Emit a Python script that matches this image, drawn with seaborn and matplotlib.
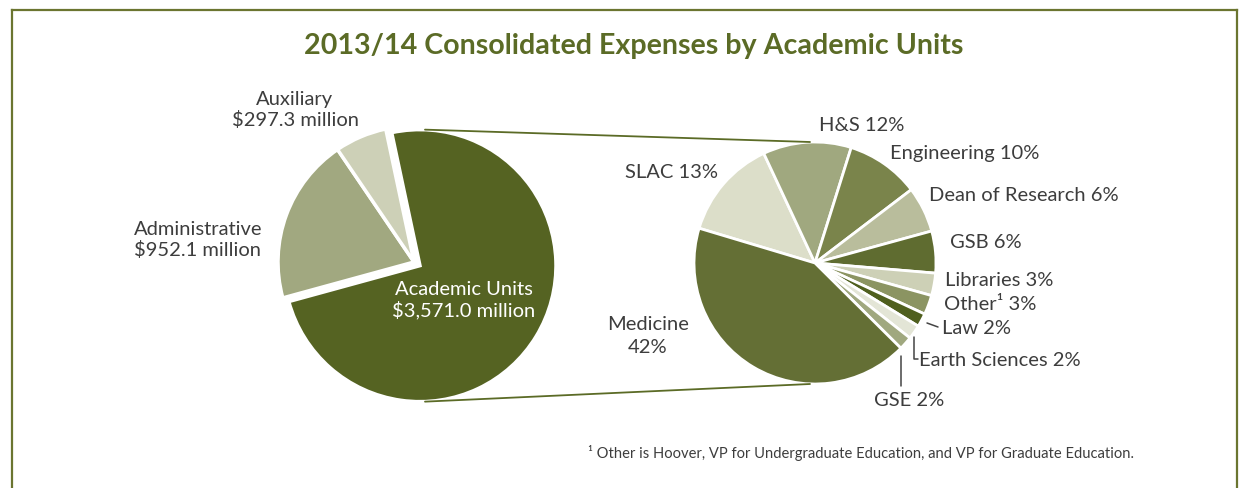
import matplotlib
matplotlib.use("Agg")
import matplotlib.pyplot as plt
import seaborn as sns

# Consolidated expenses ($ million)
main_labels = ["Academic Units", "Administrative", "Auxiliary"]
main_values = [3571.0, 952.1, 297.3]
main_text = ["$3,571.0 million", "$952.1 million", "$297.3 million"]

# Academic units breakdown (% share)
unit_names = ["SLAC", "H&S", "Engineering", "Dean of Research", "GSB", "Libraries",
              "Other\u00b9", "Law", "Earth Sciences", "GSE", "Medicine"]
unit_shares = [13.4, 11.8, 9.8, 6.1, 5.6, 3.0, 2.6, 1.8, 1.9, 1.8, 42.2]
unit_pct = ["13%", "12%", "10%", "6%", "6%", "3%", "3%", "2%", "2%", "2%", "42%"]

footnote = "\u00b9 Other is Hoover, VP for Undergraduate Education, and VP for Graduate Education."

main_colors = ["#556322", "#a1a880", "#cdd0b7"]
unit_colors = ["#dcdec9", "#a0a87f", "#7a844b", "#b9bd9c", "#5f6c30", "#cdd0b6",
               "#8b9462", "#4f5f1e", "#e3e5d6", "#a0a87f", "#646f35"]

sns.set_theme(style="white")
plt.rcParams["font.family"] = ["Lato", "DejaVu Sans"]

W, H = 1248, 488
olive = "#5b6b26"
txt = "#3d3d3d"

fig = plt.figure(figsize=(W / 100, H / 100), dpi=100)
ax = fig.add_axes([12 / W, 0, 1225 / W, 478 / H])


def P(x, y):
    # pixel position (from top-left) -> data coords
    return x, H - y


lw, _ = ax.pie(main_values, colors=main_colors, startangle=102, counterclock=False,
               center=P(414, 262), radius=136, explode=[7, 0, 0], frame=True,
               wedgeprops=dict(edgecolor="white", linewidth=2.5))
rw, _ = ax.pie(unit_shares, colors=unit_colors, startangle=163.3, counterclock=False,
               center=P(815, 263), radius=121, frame=True,
               wedgeprops=dict(edgecolor="white", linewidth=2))

ax.set_xlim(12, 1237)
ax.set_ylim(0, 478)
ax.set_aspect("equal")
ax.set_xticks([])
ax.set_yticks([])
for s in ["left", "right", "top"]:
    ax.spines[s].set_visible(True)
    ax.spines[s].set_color("#6b7530")
    ax.spines[s].set_linewidth(1.6)
ax.spines["bottom"].set_visible(False)

# zoom connector lines
acx, acy = lw[0].center
ar = lw[0].r
rcx, rcy = rw[0].center
rr = rw[0].r
for sgn in (1, -1):
    ax.plot([acx + 5, rcx - 5], [acy + sgn * ar, rcy + sgn * rr], color=olive, lw=1.3)

fs = 14.5
ax.text(*P(634, 46), "2013/14 Consolidated Expenses by Academic Units", ha="center", va="center",
        fontsize=20.6, fontweight="bold", color=olive)

ax.text(*P(295, 110), f"{main_labels[2]}\n{main_text[2]}", ha="center", va="center",
        fontsize=fs, color=txt, linespacing=1.2)
ax.text(*P(198, 240), f"{main_labels[1]}\n{main_text[1]}", ha="center", va="center",
        fontsize=fs, color=txt, linespacing=1.2)
ax.text(*P(464, 300), f"{main_labels[0]}\n{main_text[0]}", ha="center", va="center",
        fontsize=fs, color="white", linespacing=1.2)

# right pie labels: (x, y, ha)
label_pos = [(718, 172, "right"), (862, 125, "center"), (890, 153, "left"),
             (929, 195, "left"), (950, 243, "left"), (945, 281, "left"),
             (944, 304, "left"), (942, 329, "left"), (919, 360, "left"),
             (874, 400, "left"), (648, 336, "center")]
for name, pct, (x, y, ha) in zip(unit_names, unit_pct, label_pos):
    sep = "\n" if name == "Medicine" else " "
    ax.text(*P(x, y), f"{name}{sep}{pct}", ha=ha, va="center", fontsize=fs,
            color=txt, linespacing=1.45)

# leader lines for small slices
leaders = [[(927, 323), (938, 327)],
           [(914, 337), (914, 359), (918, 359)],
           [(901, 356), (901, 386)]]
for pts in leaders:
    xs, ys = zip(*[P(x, y) for x, y in pts])
    ax.plot(xs, ys, color="#444444", lw=1.1)

ax.text(*P(588, 453), footnote, ha="left", va="center", fontsize=10.6, color=txt)

fig.savefig("out.png", dpi=100)
